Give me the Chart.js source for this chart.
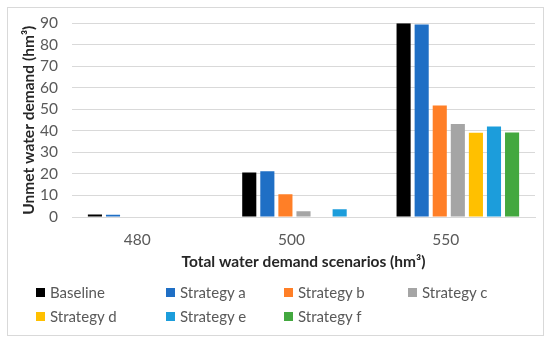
<!DOCTYPE html>
<html>
<head>
<meta charset="utf-8">
<script src="https://cdn.jsdelivr.net/npm/chart.js@4"></script>
<style>
    body { margin: 0; background: #fff; font-family: Lato, "Open Sans", sans-serif; }
    #wrap { position: relative; width: 550px; height: 341px; }
    #frame { position: absolute; left: 7px; top: 7px; width: 535px; height: 327px; border: 1px solid #d9d9d9; }
    #chartBox { position: absolute; left: 0; top: 0; width: 550px; height: 275px; }
    #legend { position: absolute; left: 0; top: 0; width: 550px; height: 341px; pointer-events: none; }
    .item { position: absolute; font-size: 15px; color: #595959; white-space: nowrap; line-height: 18px; }
    .item span.box { display: inline-block; width: 9px; height: 9px; margin-right: 5px; vertical-align: 1px; }
</style>
</head>
<body>
<div id="wrap">
    <div id="frame"></div>
    <div id="chartBox"><canvas id="demandChart"></canvas></div>
    <div id="legend"></div>
</div>
<script>
var scenarios = ["480", "500", "550"];
var seriesNames = ["Baseline", "Strategy a", "Strategy b", "Strategy c", "Strategy d", "Strategy e", "Strategy f"];
var seriesColors = ["#000000", "#1f6fc5", "#ff7f27", "#a5a5a5", "#ffc000", "#1c9ddb", "#43a83f"];

var baseline = [1.2, 20.7, 90.0];
var strategyA = [1.0, 21.2, 89.4];
var strategyB = [0, 10.6, 51.8];
var strategyC = [0, 2.7, 43.2];
var strategyD = [0, 0, 39.1];
var strategyE = [0, 3.6, 42.0];
var strategyF = [0, 0, 39.3];

var yTicks = [0, 10, 20, 30, 40, 50, 60, 70, 80, 90];

initDemandChart();

function initDemandChart() {
    var ctx = document.getElementById("demandChart");
    var values = [baseline, strategyA, strategyB, strategyC, strategyD, strategyE, strategyF];

    var datasets = seriesNames.map(function (name, i) {
        return {
            label: name,
            data: values[i],
            backgroundColor: seriesColors[i],
            borderWidth: 0,
        };
    });

    var chart = new Chart(ctx, {
        type: "bar",
        data: {
            labels: scenarios,
            datasets: datasets,
        },
        options: {
            responsive: true,
            maintainAspectRatio: false,
            animation: false,
            categoryPercentage: 0.82,
            barPercentage: 0.78,
            layout: {
                padding: { top: 12, right: 15, left: 20, bottom: 0 },
            },
            plugins: {
                legend: { display: false },
                tooltip: { enabled: false },
            },
            scales: {
                x: {
                    grid: { display: false },
                    border: { color: "#d9d9d9" },
                    ticks: {
                        color: "#595959",
                        font: { family: "Lato", size: 15.5 },
                        labelOffset: -12,
                        padding: 6,
                    },
                    title: {
                        display: true,
                        text: "Total water demand scenarios (hm³)",
                        color: "#262626",
                        font: { family: "Lato", size: 15.5, weight: "bold" },
                        padding: { top: 0, bottom: 4 },
                    },
                    afterFit: function (scale) { scale.height = 58; },
                },
                y: {
                    min: 0,
                    max: 90,
                    afterBuildTicks: function (scale) {
                        scale.ticks = yTicks.map(function (v) { return { value: v }; });
                    },
                    grid: { color: "#d9d9d9", drawTicks: false },
                    border: { display: false },
                    ticks: {
                        color: "#595959",
                        font: { family: "Lato", size: 15.5 },
                        padding: 14,
                        autoSkip: false,
                    },
                    title: {
                        display: true,
                        text: "Unmet water demand (hm³)",
                        color: "#262626",
                        font: { family: "Lato", size: 15.5, weight: "bold" },
                        padding: { top: 0, bottom: 0 },
                    },
                    afterFit: function (scale) { scale.width = 52; },
                },
            },
        },
    });

    // legend in four columns like the original
    var cols = [36, 166, 284, 408];
    var rows = [283, 307];
    var legend = document.getElementById("legend");
    chart.data.datasets.forEach(function (ds, i) {
        var item = document.createElement("div");
        item.className = "item";
        item.style.left = cols[i % 4] + "px";
        item.style.top = rows[Math.floor(i / 4)] + "px";
        item.innerHTML = '<span class="box" style="background:' + ds.backgroundColor + '"></span>' + ds.label;
        legend.appendChild(item);
    });
}
</script>
</body>
</html>
